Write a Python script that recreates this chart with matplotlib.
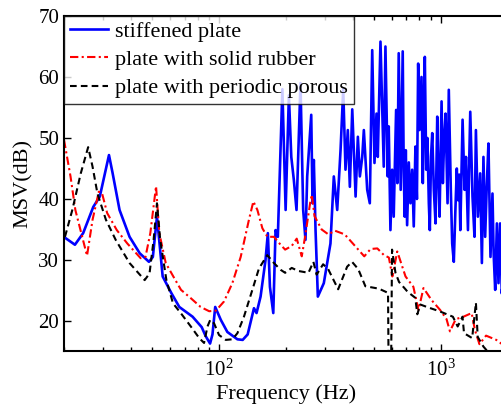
import numpy as np
import matplotlib
matplotlib.use("Agg")
import matplotlib.pyplot as plt
from matplotlib.ticker import LogLocator, NullFormatter, LogFormatterMathtext

plt.rcParams['font.family'] = ['Liberation Serif', 'DejaVu Serif']
plt.rcParams['mathtext.fontset'] = 'custom'
plt.rcParams['mathtext.rm'] = 'Liberation Serif'
plt.rcParams['mathtext.it'] = 'Liberation Serif:italic'

# ---- data (frequency in Hz, MSV in dB) ----
f_stiff = [20.3, 22.4, 24.4, 27.1, 29.0, 31.9, 33.1, 35.6, 39.5, 43.9, 48.3, 50.3, 52.5,
           55.7, 60.9, 66.2, 76.0, 83.5, 87.1, 91.1, 93.4, 96.1, 101.8, 109, 121, 127.8,
           134.6, 143.7, 147.6, 153.9, 162, 166, 169.6, 175.6, 179.8, 184.1, 193, 199.6,
           206.5, 211.7, 217.4, 223.5, 232.9, 239.5, 245.3, 249.7, 260.4, 263.9, 267.5,
           272.3, 278.9, 296.7, 317.9, 329.2, 341, 353, 363, 371.6, 380.7, 388.8, 398.6,
           412.7, 422.5, 431.4, 442.2, 449.6, 465.6, 478.3, 490.4, 502.1, 512.7, 519.6,
           534.3, 552.9, 562.6, 576.2, 582.2, 592.5, 603, 613, 628.5, 637, 645.7, 659.2,
           673.1, 680, 687.2, 695, 704.5, 717, 729.3, 742.3, 754.8, 768.2, 780, 790.2,
           801.1, 818, 829.2, 838, 846.7, 859.1, 870, 882.7, 891.9, 903, 914.5, 929.8,
           946.4, 963.3, 975, 986.6, 1007.5, 1021, 1035, 1050, 1072, 1086, 1109, 1125,
           1144, 1163, 1180, 1195, 1210, 1224, 1253, 1279, 1298, 1325, 1340, 1357, 1389,
           1418, 1439, 1469, 1504, 1531, 1556, 1584, 1610, 1639, 1674, 1709, 1730, 1758,
           1789, 1819, 1850, 1883, 1920, 1960, 2000]
msv_stiff = [33.6, 32.5, 34.4, 38.7, 40.4, 47.2, 44.3, 38.2, 33.8, 31.1, 29.7, 30.5, 37.1,
             27.3, 24.6, 22.3, 20.7, 19.0, 17.5, 16.3, 17.8, 22.3, 20.2, 18.2, 17.0, 16.9,
             17.8, 22.1, 21.3, 24.0, 30.0, 34.4, 25.6, 21.3, 34.9, 33.8, 58.0, 38.2,
             57.0, 46.9, 43.1, 38.2, 59.0, 38.2, 33.3, 43.7, 53.8, 39.3, 46.4,
             34.9, 24.0, 26.2, 32.7, 43.7, 38.2, 48.0, 58.0, 44.8, 51.3, 42.0, 54.7,
             40.4, 50.2, 43.7, 46.9, 51.3, 41.5, 39.3, 64.4, 45.9, 54.0, 46.9,
             65.8, 45.3, 65.0, 43.7, 51.9, 34.9, 44.8, 37.1, 54.6, 42.6, 63.9, 41.5,
             64.2, 45.0, 37.1, 48.0, 35.7, 46.0, 39.3, 44.8, 35.5, 48.6, 40.0, 62.2,
             51.3, 60.0, 42.6, 55.0, 63.3, 44.8, 50.0, 39.3, 34.9, 47.0, 50.8, 41.5,
             36.0, 53.5, 44.0, 37.1, 56.0, 42.6, 50.0, 54.0, 39.3, 57.9, 41.5, 32.7,
             29.7, 38.2, 45.0, 39.8, 44.0, 34.9, 53.0, 41.5, 46.9, 34.9, 45.0, 54.3, 40.4,
             33.8, 51.3, 37.1, 44.2, 29.5, 46.9, 33.8, 42.0, 49.1, 30.5, 40.9, 31.0, 25.1,
             36.0, 26.2, 36.0, 24.5, 30.0, 23.0, 27.0]

f_rubber = [20, 21.4, 22.5, 25.4, 26.9, 28.7, 29.7, 31.3, 34.6, 38.6, 44.3, 46.6, 49,
            52, 53.8, 57.5, 62.2, 67.4, 74.8, 82.6, 90.3, 96.8, 105.3, 114.8, 125.2,
            136.4, 142.8, 148.9, 156.8, 165.2, 176.8, 189.4, 198.6, 212.7, 224, 236,
            244.5, 257.6, 261.9, 269.4, 290.2, 311, 333.1, 368.6, 408, 451.5, 482.4,
            517, 553.9, 583, 604.6, 636, 693, 751.8, 793, 835, 909.3, 993, 1061, 1099,
            1167, 1264, 1377, 1425, 1493, 1599, 1778, 1872, 2000]
msv_rubber = [49.7, 43.7, 38.2, 30.7, 36.6, 41.2, 40.9, 37.7, 34.9, 32.7, 30.3, 30.5, 34.4,
              42.1, 34.4, 29.5, 27.3, 25.1, 23.7, 22.3, 21.6, 21.7, 23.2, 26.2, 30.5,
              36.6, 39.6, 38.2, 35.2, 33.8, 33.8, 32.5, 31.7, 32.3, 33.5, 30.6,
              33.9, 39.4, 40.7, 37.2, 35.0, 34.2, 34.8, 34.2, 32.4, 30.6, 31.8,
              31.9, 30.8, 30.4, 27.3, 31.4, 27.3, 25.6, 21.8, 25.4, 23.4, 21.8, 20.3, 18.3,
              20.3, 20.7, 21.3, 18.5, 16.2, 17.6, 16.9, 16.3, 15.8]

f_porous = [20.2, 21.8, 23.8, 25.7, 26.9, 28.3, 30.9, 34.2, 39.5, 46.2, 48.6, 50.7, 52.5,
            54.3, 57.9, 62, 67.2, 74.6, 81.4, 85.6, 88.7, 91.3, 95, 100, 107.2, 114.9,
            121, 129.5, 141.3, 151.3, 165, 176.8, 189.4, 198.6, 212.7, 227.8, 253,
            266.3, 275.3, 294.6, 310.5, 344.4, 378, 397.7, 424.2, 456.7, 525.5, 563,
            577.9, 582, 596, 602.5, 624.3, 647.8, 692.6, 707.4, 767, 783.2, 808,
            880.5, 985, 1133, 1191, 1252, 1272, 1384, 1439, 1466, 1556, 1671, 2000]
msv_porous = [33.8, 38.2, 44.2, 48.5, 45.3, 40.9, 36.6, 33.3, 29.5, 26.7, 27.8, 33.3, 39.3,
              33.3, 26.7, 22.9, 21.3, 19.1, 17.2, 16.4, 19.1, 20.2, 19.6, 17.7, 16.9, 17.0,
              18.0, 20.7, 25.1, 28.6, 30.8, 29.5, 28.4, 27.9, 28.7, 28.2, 27.9,
              29.7, 27.6, 29.3, 28.5, 25.2, 28.9, 29.7, 28.5, 25.7, 25.3, 24.8,
              24.6, 10.0, 10.0, 31.7, 27.9, 26.4, 25.2, 24.8, 23.8, 21.1, 22.7,
              22.2, 21.6, 20.7, 19.1, 20.7, 18.0, 17.2, 23.0, 17.4, 15.8, 14.5, 13.0]

labels = ['stiffened plate', 'plate with solid rubber', 'plate with periodic porous']

fig = plt.figure(figsize=(5.02, 4.09), dpi=100)
ax = fig.add_axes([0.1275, 0.1406, 0.8837, 0.8203])

ax.plot(f_stiff, msv_stiff, '-', color='b', lw=1.9, label=labels[0])
ax.plot(f_rubber, msv_rubber, '-.', color='r', lw=1.5, dashes=(4, 1.6, 1, 1.6), label=labels[1])
ax.plot(f_porous, msv_porous, '--', color='k', lw=1.5, dashes=(3.2, 2), label=labels[2])

ax.set_xscale('log')
ax.set_xlim(20, 2000)
ax.set_ylim(15, 70)
ax.set_yticks([20, 30, 40, 50, 60, 70])
ax.xaxis.set_major_locator(LogLocator(base=10, numticks=10))
ax.xaxis.set_major_formatter(LogFormatterMathtext())
ax.xaxis.set_minor_locator(LogLocator(base=10, subs=np.arange(2, 10), numticks=20))
ax.xaxis.set_minor_formatter(NullFormatter())

ax.tick_params(which='both', direction='in', top=True, right=True, labelsize=15, width=1.0)
ax.tick_params(which='major', length=5)
ax.tick_params(which='minor', length=3)
ax.tick_params(axis='x', which='major', pad=6)
for s in ax.spines.values():
    s.set_linewidth(1.5)

ax.set_xlabel('Frequency (Hz)', fontsize=16, labelpad=2)
ax.set_ylabel('MSV(dB)', fontsize=16, labelpad=4)

leg = ax.legend(loc='upper left', fontsize=16, frameon=True, fancybox=False,
                borderaxespad=0, handlelength=1.75, handletextpad=0.3,
                labelspacing=0.34, borderpad=0.25)
leg.get_frame().set_edgecolor('k')
leg.get_frame().set_linewidth(1.0)

fig.savefig('out.png', dpi=100)
